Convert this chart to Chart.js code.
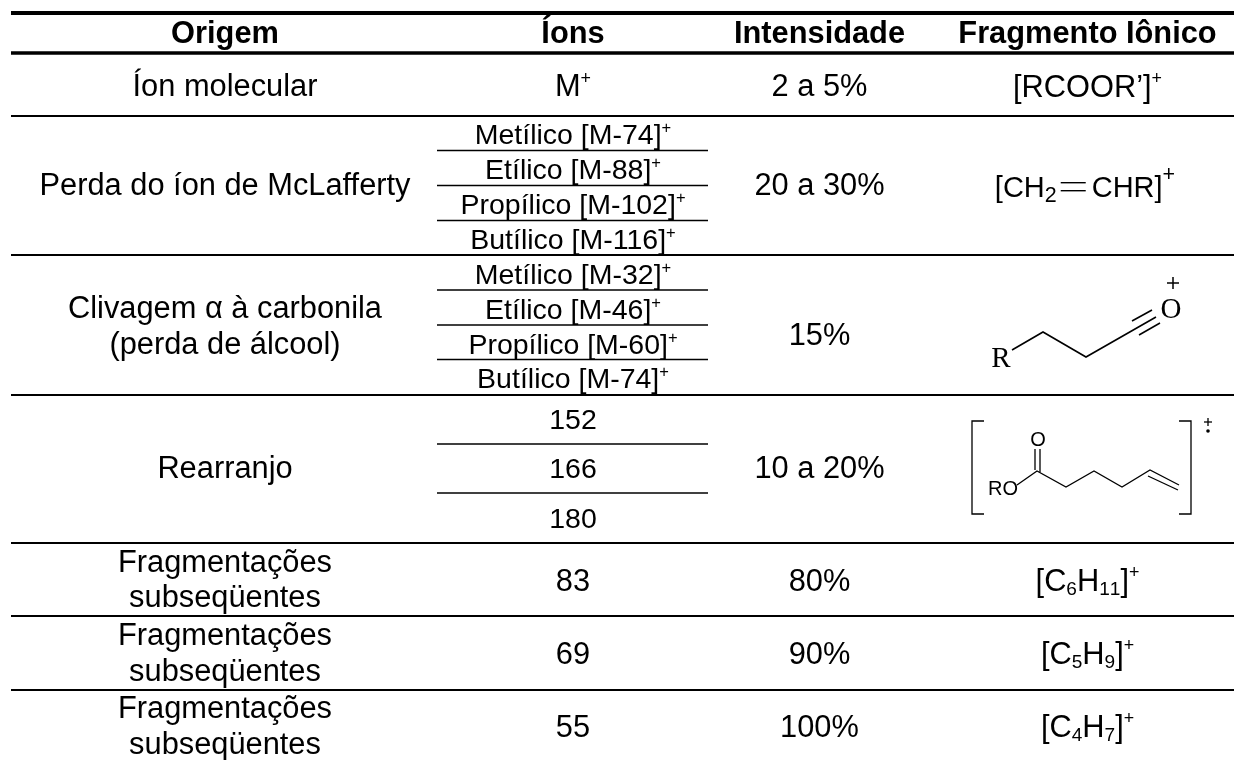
<!DOCTYPE html>
<html>
<head>
<meta charset="utf-8">
<script src="https://cdn.jsdelivr.net/npm/chart.js@4"></script>
<style>
  html, body { margin: 0; background: #fff; }
  canvas { display: block; }
</style>
</head>
<body>
<canvas id="tabela" width="1234" height="760"></canvas>
<script>
// table contents. ^ = superscript, _ = subscript (one character), ═ = drawn double bond
const headers = ['Origem', 'Íons', 'Intensidade', 'Fragmento Iônico'];
const origens = [['Íon molecular'], ['Perda do íon de McLafferty'], ['Clivagem α à carbonila', '(perda de álcool)'], ['Rearranjo'],
  ['Fragmentações', 'subseqüentes'], ['Fragmentações', 'subseqüentes'], ['Fragmentações', 'subseqüentes']];
const ions = [['M^+'],
  ['Metílico [M-74]^+', 'Etílico [M-88]^+', 'Propílico [M-102]^+', 'Butílico [M-116]^+'],
  ['Metílico [M-32]^+', 'Etílico [M-46]^+', 'Propílico [M-60]^+', 'Butílico [M-74]^+'],
  ['152', '166', '180'], ['83'], ['69'], ['55']];
const intensidades = ['2 a 5%', '20 a 30%', '15%', '10 a 20%', '80%', '90%', '100%'];
const fragmentos = ['[RCOOR’]^+', '[CH_2═CHR]^+', null, null, '[C_6H_1_1]^+', '[C_5H_9]^+', '[C_4H_7]^+'];

// layout
const colX = [225, 573, 819.5, 1087.5];
const headerBase = 43;
const origemBase = [[96], [195], [318, 354], [478], [572, 607], [645, 681], [718, 754]];
const ionsBase = [[96], [144, 179, 214, 249], [284, 319, 354, 388], [429, 478, 528], [591], [664], [737]];
const rowBase = [96, 195, 345, 478, 591, 664, 737];
const fragBase = [97, 197, 0, 0, 591, 664, 737];
const bodySize = 30.8, ionSize = 28.5;
const FONT = '"Liberation Sans", Arial, sans-serif';

function seg(pts, width) {
  return { data: pts.map(p => ({ x: p[0], y: p[1] })), showLine: true, borderColor: '#000', borderWidth: width,
    pointRadius: 0, clip: false, borderCapStyle: 'butt', borderJoinStyle: 'miter', tension: 0 };
}
const xL = 11, xR = 1234, subL = 437, subR = 708;
const datasets = [
  seg([[xL, 13], [xR, 13]], 4),
  seg([[xL, 53], [xR, 53]], 3.5)
];
[116, 255, 395, 543, 616, 690].forEach(y => datasets.push(seg([[xL, y], [xR, y]], 2.2)));
[150.5, 185.5, 220.5, 290, 325, 359.5, 444, 493].forEach(y => datasets.push(seg([[subL, y], [subR, y]], 1.7)));

// acylium ion
datasets.push(seg([[1012, 350], [1043, 332], [1086, 357], [1156, 317]], 1.6));
datasets.push(seg([[1132, 321], [1152, 310]], 1.6));
datasets.push(seg([[1139, 335], [1160, 323]], 1.6));
datasets.push(seg([[1167, 283], [1179, 283]], 1.5));
datasets.push(seg([[1173, 277], [1173, 289]], 1.5));
// rearrangement ion
datasets.push(seg([[984, 421], [972, 421], [972, 514], [984, 514]], 1.3));
datasets.push(seg([[1179, 421], [1191, 421], [1191, 514], [1179, 514]], 1.3));
datasets.push(seg([[1017, 485], [1037, 471], [1066, 487], [1094, 471], [1122, 487], [1150, 470], [1179, 485]], 1.3));
datasets.push(seg([[1035, 449], [1035, 470]], 1.3));
datasets.push(seg([[1040, 449], [1040, 472]], 1.3));
datasets.push(seg([[1148, 476], [1178, 490]], 1.3));
datasets.push(seg([[1204, 422], [1212, 422]], 1.3));
datasets.push(seg([[1208, 418], [1208, 426]], 1.3));

function richParts(text) {
  const parts = [];
  let mode = 'n', buf = '';
  const flush = () => { if (buf) parts.push({ t: buf, m: mode }); buf = ''; };
  for (const ch of text) {
    if (ch === '^' || ch === '_') {
      flush(); mode = ch === '^' ? 'sup' : 'sub';
    } else if (ch === '═') {
      flush(); mode = 'n'; parts.push({ t: '', m: 'bond' });
    } else {
      if (mode !== 'n' && buf.length === 1) { flush(); mode = 'n'; }
      buf += ch;
    }
  }
  flush();
  return parts;
}

function drawRich(ctx, text, cx, base, size, weight, o) {
  o = Object.assign({ supScale: 0.58, subScale: 0.62, rise: 0.42, drop: 0.12 }, o);
  const parts = richParts(text);
  const fontOf = p => (weight || '') + ' ' + (p.m === 'sup' ? size * o.supScale : p.m === 'sub' ? size * o.subScale : size) + 'px ' + FONT;
  const widthOf = p => { if (p.m === 'bond') return 35; ctx.font = fontOf(p); return ctx.measureText(p.t).width; };
  let w = 0;
  parts.forEach(p => { w += widthOf(p); });
  let x = cx - w / 2;
  ctx.textAlign = 'left';
  ctx.textBaseline = 'alphabetic';
  parts.forEach(p => {
    const pw = widthOf(p);
    if (p.m === 'bond') {
      ctx.fillRect(x + 4, base - 15, 25, 1.4);
      ctx.fillRect(x + 4, base - 7, 25, 1.4);
    } else {
      const y = base + (p.m === 'sup' ? -size * o.rise : p.m === 'sub' ? size * o.drop : 0);
      ctx.fillText(p.t, x, y);
    }
    x += pw;
  });
}

const tableText = {
  id: 'tableText',
  afterDraw(chart) {
    const ctx = chart.ctx, sx = chart.scales.x, sy = chart.scales.y;
    const px = v => sx.getPixelForValue(v), py = v => sy.getPixelForValue(v);
    ctx.save();
    ctx.fillStyle = '#000';
    headers.forEach((h, i) => drawRich(ctx, h, px(colX[i]), py(headerBase), bodySize, 'bold'));
    origens.forEach((lines, r) => lines.forEach((l, k) => drawRich(ctx, l, px(colX[0]), py(origemBase[r][k]), bodySize)));
    ions.forEach((lines, r) => lines.forEach((l, k) => {
      drawRich(ctx, l, px(colX[1]), py(ionsBase[r][k]), r >= 1 && r <= 3 ? ionSize : bodySize, '', { rise: 0.38 });
    }));
    intensidades.forEach((t, r) => drawRich(ctx, t, px(colX[2]), py(rowBase[r]), bodySize));
    fragmentos.forEach((t, r) => {
      if (!t) return;
      if (r === 1) drawRich(ctx, t, px(1085), py(fragBase[r]), 29, '', { supScale: 0.74, rise: 0.55, subScale: 0.74, drop: 0.17 });
      else drawRich(ctx, t, px(colX[3]), py(fragBase[r]), bodySize);
    });
    // structure labels
    ctx.textAlign = 'center';
    ctx.font = '29px "Liberation Serif", serif';
    ctx.fillText('R', px(1001), py(367));
    ctx.fillText('O', px(1171), py(318));
    ctx.font = '20px ' + FONT;
    ctx.fillText('O', px(1038), py(445.5));
    ctx.fillText('RO', px(1003), py(495));
    ctx.beginPath();
    ctx.arc(px(1208), py(431), 1.8, 0, Math.PI * 2);
    ctx.fill();
    ctx.restore();
  }
};

new Chart(document.getElementById('tabela'), {
  type: 'scatter',
  data: { datasets },
  plugins: [tableText],
  options: {
    responsive: false,
    animation: false,
    layout: { padding: 0 },
    plugins: { legend: { display: false }, tooltip: { enabled: false } },
    events: [],
    scales: {
      x: { type: 'linear', min: 0, max: 1234, display: false },
      y: { type: 'linear', min: 0, max: 760, reverse: true, display: false }
    }
  }
});
</script>
</body>
</html>
